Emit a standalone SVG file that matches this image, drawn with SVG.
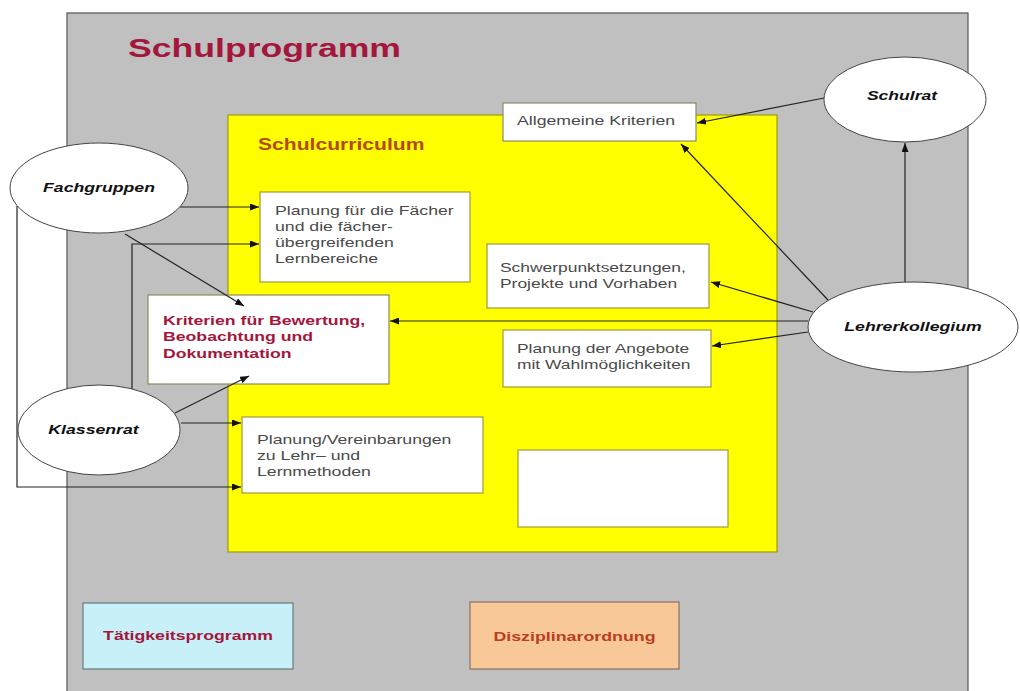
<svg xmlns="http://www.w3.org/2000/svg" width="1020" height="691" viewBox="0 0 1020 691">
<defs>
<marker id="ah" markerWidth="9" markerHeight="7" refX="9" refY="3.5" orient="auto" markerUnits="userSpaceOnUse">
<path d="M0,0 L9,3.5 L0,7 z" fill="#111"/>
</marker>
<style>
.lbl{font-family:"Liberation Sans",Arial,sans-serif;font-size:13px;fill:#4a4a4a}
.ell{font-family:"Liberation Sans",Arial,sans-serif;font-size:13px;font-weight:bold;font-style:italic;fill:#111;text-anchor:middle}
.red{font-family:"Liberation Sans",Arial,sans-serif;font-size:13px;font-weight:bold;fill:#a3173d}
.box{fill:#fff;stroke:#a39a3a;stroke-width:1.2}
.oval{fill:#fff;stroke:#444;stroke-width:1}
.con{fill:none;stroke:#222;stroke-width:1.2;marker-end:url(#ah)}
</style>
</defs>
<rect width="1020" height="691" fill="#fff"/>
<g id="schulprogramm">
<rect x="67" y="13" width="901" height="690" fill="#c0c0c0" stroke="#555" stroke-width="1.2"/>
<text transform="translate(128 57) scale(1.37 1)" style="font-family:'Liberation Sans',Arial,sans-serif;font-size:26px;font-weight:bold;fill:#a3173d">Schulprogramm</text>
</g>
<g id="schulcurriculum">
<rect x="228" y="115" width="549" height="437" fill="#ffff00" stroke="#9a9a10" stroke-width="1.2"/>
<text transform="translate(258 150) scale(1.32 1)" style="font-family:'Liberation Sans',Arial,sans-serif;font-size:16px;font-weight:bold;fill:#b5480c">Schulcurriculum</text>
</g>
<g id="allgemeine">
<rect x="503" y="103" width="193" height="38" fill="#fff" stroke="#8a8a6a" stroke-width="1.2"/>
<text class="lbl" transform="translate(517 125) scale(1.36 1)">Allgemeine Kriterien</text>
</g>
<g id="planung-faecher">
<rect class="box" x="260" y="192" width="210" height="90"/>
<text class="lbl" transform="translate(275 215) scale(1.36 1)"><tspan x="0" y="0">Planung für die Fächer</tspan><tspan x="0" y="16">und die fächer-</tspan><tspan x="0" y="32">übergreifenden</tspan><tspan x="0" y="48">Lernbereiche</tspan></text>
</g>
<g id="schwerpunkt">
<rect class="box" x="487" y="244" width="222" height="64"/>
<text class="lbl" transform="translate(500 272) scale(1.34 1)"><tspan x="0" y="0">Schwerpunktsetzungen,</tspan><tspan x="0" y="16">Projekte und Vorhaben</tspan></text>
</g>
<g id="kriterien">
<rect x="148" y="295" width="241" height="89" fill="#fff" stroke="#8a8a5a" stroke-width="1.2"/>
<text class="red" transform="translate(163 325) scale(1.36 1)"><tspan x="0" y="0">Kriterien für Bewertung,</tspan><tspan x="0" y="16.5">Beobachtung und</tspan><tspan x="0" y="33">Dokumentation</tspan></text>
</g>
<g id="angebote">
<rect class="box" x="503" y="330" width="208" height="57"/>
<text class="lbl" transform="translate(517 353) scale(1.34 1)"><tspan x="0" y="0">Planung der Angebote</tspan><tspan x="0" y="16">mit Wahlmöglichkeiten</tspan></text>
</g>
<g id="planung-methoden">
<rect class="box" x="242" y="417" width="241" height="76"/>
<text class="lbl" transform="translate(257 444) scale(1.36 1)"><tspan x="0" y="0">Planung/Vereinbarungen</tspan><tspan x="0" y="16">zu Lehr– und</tspan><tspan x="0" y="32">Lernmethoden</tspan></text>
</g>
<g id="leer">
<rect class="box" x="518" y="450" width="210" height="77"/>
</g>
<g id="taetigkeitsprogramm">
<rect x="83" y="603" width="210" height="66" fill="#c8f0f8" stroke="#6a7a80" stroke-width="1.2"/>
<text class="red" text-anchor="middle" transform="translate(188 640) scale(1.36 1)">Tätigkeitsprogramm</text>
</g>
<g id="disziplinarordnung">
<rect x="470" y="602" width="209" height="67" fill="#f8c898" stroke="#8a7060" stroke-width="1.2"/>
<text class="red" text-anchor="middle" transform="translate(574.5 641) scale(1.37 1)" style="fill:#b8401e">Disziplinarordnung</text>
</g>
<g id="connectors">
<line class="con" x1="824" y1="98" x2="697" y2="123"/>
<line class="con" x1="905" y1="282" x2="905" y2="143"/>
<line class="con" x1="828" y1="300" x2="681" y2="144"/>
<line class="con" x1="813" y1="312" x2="711" y2="282"/>
<line class="con" x1="808" y1="321" x2="390" y2="321"/>
<line class="con" x1="808" y1="332" x2="712" y2="346"/>
<line class="con" x1="180" y1="207" x2="259" y2="207"/>
<line class="con" x1="125" y1="234" x2="244" y2="306"/>
<polyline class="con" points="132,389 132,244 259,244"/>
<line class="con" x1="175" y1="413" x2="249" y2="376"/>
<line class="con" x1="181" y1="423" x2="241" y2="423"/>
<polyline class="con" points="17,206 17,487 241,487"/>
</g>
<g id="schulrat">
<ellipse class="oval" cx="905" cy="99.5" rx="81" ry="42.5"/>
<text class="ell" transform="translate(902 100) scale(1.35 1)">Schulrat</text>
</g>
<g id="lehrerkollegium">
<ellipse class="oval" cx="913" cy="327" rx="105" ry="45"/>
<text class="ell" transform="translate(913 331) scale(1.36 1)">Lehrerkollegium</text>
</g>
<g id="fachgruppen">
<ellipse class="oval" cx="99" cy="188" rx="89" ry="45"/>
<text class="ell" transform="translate(99 192) scale(1.36 1)">Fachgruppen</text>
</g>
<g id="klassenrat">
<ellipse class="oval" cx="99" cy="430" rx="81" ry="45"/>
<text class="ell" transform="translate(93.5 434) scale(1.36 1)">Klassenrat</text>
</g>
</svg>
